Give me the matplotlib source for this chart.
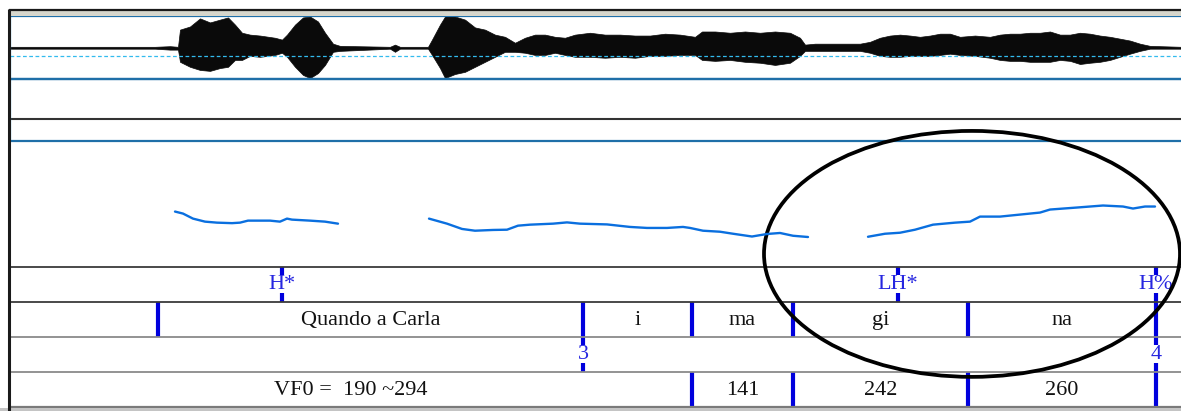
import matplotlib.pyplot as plt
from matplotlib.patches import Ellipse, Rectangle
from matplotlib.lines import Line2D

plt.rcParams['font.family'] = ['Liberation Serif', 'DejaVu Serif']

# 1. Señal (tiempo en s, amplitud normalizada), envolvente
duracion = 2.342
onda_t = [0.000, 0.290, 0.320, 0.336, 0.340, 0.360, 0.380, 0.400, 0.420, 0.436,
          0.450, 0.464, 0.480, 0.500, 0.530, 0.544, 0.554, 0.570, 0.586, 0.600,
          0.616, 0.630, 0.646, 0.660, 0.760, 0.770, 0.780, 0.836, 0.844, 0.860,
          0.870, 0.890, 0.910, 0.930, 0.950, 0.970, 0.990, 1.010, 1.030, 1.050,
          1.070, 1.090, 1.110, 1.130, 1.160, 1.190, 1.220, 1.250, 1.280, 1.310,
          1.340, 1.370, 1.384, 1.410, 1.440, 1.470, 1.500, 1.530, 1.560, 1.580,
          1.590, 1.610, 1.700, 1.720, 1.740, 1.760, 1.780, 1.800, 1.820, 1.840,
          1.860, 1.880, 1.900, 1.930, 1.960, 1.980, 2.000, 2.020, 2.040, 2.060,
          2.080, 2.100, 2.120, 2.140, 2.160, 2.180, 2.200, 2.220, 2.240, 2.260,
          2.280, 2.342]
onda_sup = [0.03, 0.03, 0.05, 0.03, 0.58, 0.68, 0.94, 0.81, 0.90, 0.97,
            0.74, 0.48, 0.42, 0.39, 0.32, 0.26, 0.42, 0.74, 0.97, 1.00,
            0.84, 0.48, 0.13, 0.06, 0.03, 0.10, 0.03, 0.03, 0.26, 0.74,
            1.00, 1.00, 0.90, 0.65, 0.58, 0.42, 0.35, 0.16, 0.32, 0.42,
            0.42, 0.35, 0.32, 0.42, 0.48, 0.42, 0.42, 0.39, 0.39, 0.45,
            0.42, 0.35, 0.52, 0.52, 0.48, 0.52, 0.48, 0.52, 0.48, 0.32,
            0.10, 0.13, 0.13, 0.19, 0.32, 0.39, 0.42, 0.39, 0.35, 0.39,
            0.45, 0.45, 0.35, 0.39, 0.35, 0.42, 0.45, 0.45, 0.48, 0.48,
            0.52, 0.42, 0.42, 0.48, 0.45, 0.39, 0.35, 0.29, 0.23, 0.13,
            0.06, 0.03]
onda_inf = [-0.03, -0.03, -0.06, -0.06, -0.45, -0.61, -0.71, -0.74, -0.65, -0.61,
            -0.39, -0.39, -0.26, -0.29, -0.23, -0.16, -0.29, -0.61, -0.87, -0.97,
            -0.81, -0.55, -0.13, -0.10, -0.03, -0.13, -0.03, -0.03, -0.23, -0.65,
            -0.97, -0.84, -0.77, -0.61, -0.45, -0.29, -0.13, -0.13, -0.16, -0.23,
            -0.23, -0.16, -0.23, -0.29, -0.29, -0.32, -0.29, -0.32, -0.26, -0.26,
            -0.23, -0.23, -0.39, -0.42, -0.39, -0.45, -0.48, -0.55, -0.48, -0.26,
            -0.10, -0.10, -0.10, -0.16, -0.26, -0.29, -0.29, -0.26, -0.26, -0.26,
            -0.23, -0.19, -0.23, -0.26, -0.32, -0.39, -0.42, -0.42, -0.45, -0.45,
            -0.45, -0.39, -0.42, -0.52, -0.48, -0.45, -0.39, -0.29, -0.19, -0.10,
            -0.03, -0.03]
nivel_canal2 = -0.29
nivel_guion = -0.26

# 2. Curva de F0 (Hz), tres tramos
f0_t1 = [0.330, 0.346, 0.366, 0.390, 0.414, 0.444, 0.460, 0.476, 0.520, 0.540,
         0.554, 0.564, 0.600, 0.630, 0.656]
f0_hz1 = [240, 232, 212, 200, 196, 194, 196, 204, 204, 200,
          212, 208, 204, 200, 192]
f0_t2 = [0.838, 0.874, 0.904, 0.930, 0.966, 0.994, 1.016, 1.040, 1.086, 1.114,
         1.140, 1.194, 1.240, 1.274, 1.314, 1.346, 1.360, 1.386, 1.420, 1.446,
         1.484, 1.514, 1.540, 1.566, 1.596]
f0_hz2 = [212, 192, 171, 164, 167, 168, 184, 188, 192, 197,
          192, 189, 179, 175, 175, 179, 175, 164, 160, 152,
          141, 151, 155, 144, 139]
f0_t3 = [1.716, 1.750, 1.780, 1.810, 1.846, 1.890, 1.920, 1.940, 1.980, 2.020,
         2.060, 2.080, 2.134, 2.186, 2.226, 2.246, 2.270, 2.290]
f0_hz3 = [140, 152, 156, 168, 188, 196, 200, 220, 220, 228,
          236, 248, 256, 264, 260, 252, 260, 260]
f0_min, f0_max = 20, 520

# 3. Anotaciones (tiers)
tonos_t = [0.544, 1.776, 2.292]
tonos = ['H*', 'LH*', 'H%']
silabas_lim = [0.296, 1.146, 1.364, 1.566, 1.916, 2.292]
silabas = ['Quando a Carla', 'i', 'ma', 'gi', 'na']
pausas_t = [1.146, 2.292]
pausas = ['3', '4']
vf0_lim = [0.0, 1.364, 1.566, 1.916, 2.292]
vf0 = ['VF0 =  190 ~294', '141', '242', '260']

# elipse que marca la subida final
elipse_t, elipse_hz = 1.924, 72
elipse_ancho, elipse_alto = 0.832, 976

# 4. Figura
W, H = 1181, 411
fig = plt.figure(figsize=(W / 100, H / 100), dpi=100)
fig.patch.set_facecolor('white')

def rect(arriba, abajo):
    return [10 / W, 1 - abajo / H, 1 - 10 / W, (abajo - arriba) / H]

azul_borde = '#1f6fa8'
azul_marca = '#0000dd'
azul_texto = '#2626e0'
tam_letra = 16

def panel_onda(ax):
    ax.set_xlim(0, duracion)
    ax.set_ylim(-1, 1)
    ax.set_facecolor('none')
    ax.set_xticks([])
    ax.set_yticks([])
    for lado in ['top', 'bottom']:
        ax.spines[lado].set_color(azul_borde)
        ax.spines[lado].set_linewidth(1.6)
    ax.spines['left'].set_color('#29a9e6')
    ax.spines['left'].set_linewidth(1.6)
    ax.spines['right'].set_visible(False)

ax1 = fig.add_axes(rect(16.5, 79))
panel_onda(ax1)
ax1.fill_between(onda_t, onda_inf, onda_sup, color='#0a0a0a', lw=0.5)
ax1.axhline(nivel_guion, color='#33bbee', lw=0.9, ls=(0, (3, 2)))

ax2 = fig.add_axes(rect(79, 141))
panel_onda(ax2)
ax2.axhline(nivel_canal2, color='#333333', lw=1.5)

axf = fig.add_axes(rect(141, 267), zorder=10)
axf.set_xlim(0, duracion)
axf.set_ylim(f0_min, f0_max)
axf.set_facecolor('none')
axf.axis('off')
for t, hz in [(f0_t1, f0_hz1), (f0_t2, f0_hz2), (f0_t3, f0_hz3)]:
    axf.plot(t, hz, color='#0a6fdf', lw=1.7, solid_capstyle='round')
axf.add_patch(Ellipse((elipse_t, elipse_hz), elipse_ancho, elipse_alto,
                      fill=False, ec='black', lw=2.7, clip_on=False))

def panel_tier(arriba, color_sup):
    ax = fig.add_axes(rect(arriba, arriba + 35))
    ax.set_xlim(0, duracion)
    ax.set_ylim(0, 1)
    ax.set_facecolor('none')
    ax.set_xticks([])
    ax.set_yticks([])
    for lado in ['left', 'right', 'bottom']:
        ax.spines[lado].set_visible(False)
    ax.spines['top'].set_color(color_sup)
    ax.spines['top'].set_linewidth(1.3)
    return ax

def tier_puntos(ax, tiempos, etiquetas):
    ax.vlines(tiempos, 0.78, 1, colors=azul_marca, lw=3)
    ax.vlines(tiempos, 0, 0.26, colors=azul_marca, lw=3)
    for t, e in zip(tiempos, etiquetas):
        ax.text(t, 0.5, e, ha='center', va='center', fontsize=tam_letra, color=azul_texto)

def tier_intervalos(ax, limites, etiquetas):
    ax.vlines([l for l in limites if l > 0], 0, 1, colors=azul_marca, lw=3)
    for a, b, e in zip(limites[:-1], limites[1:], etiquetas):
        ax.text((a + b) / 2, 0.47, e, ha='center', va='center', fontsize=tam_letra,
                color='#111111')

t1 = panel_tier(267, '#3a3a3a')
tier_puntos(t1, tonos_t, tonos)
t2 = panel_tier(302, '#3a3a3a')
tier_intervalos(t2, silabas_lim, silabas)
t3 = panel_tier(337, '#8a8a8a')
tier_puntos(t3, pausas_t, pausas)
t4 = panel_tier(372, '#8a8a8a')
tier_intervalos(t4, vf0_lim, vf0)
t4.spines['bottom'].set_visible(True)
t4.spines['bottom'].set_color('#7a7a7a')
t4.spines['bottom'].set_linewidth(1.6)

# marco de la ventana
fig.add_artist(Rectangle((10 / W, 1 - 16 / H), 1, 5 / H, transform=fig.transFigure,
                         fc='#d6d6cc', ec='none'))
fig.add_artist(Rectangle((0, 0), 1, 3.5 / H, transform=fig.transFigure,
                         fc='#c4c4c4', ec='none'))
fig.add_artist(Line2D([8.7 / W, 1], [1 - 10 / H] * 2, transform=fig.transFigure,
                      color='#1a1a1a', lw=1.6, solid_capstyle='butt'))
fig.add_artist(Line2D([8.7 / W] * 2, [0, 1 - 9.5 / H], transform=fig.transFigure,
                      color='#1a1a1a', lw=2.2, solid_capstyle='butt'))

fig.savefig('out.png', dpi=100)
